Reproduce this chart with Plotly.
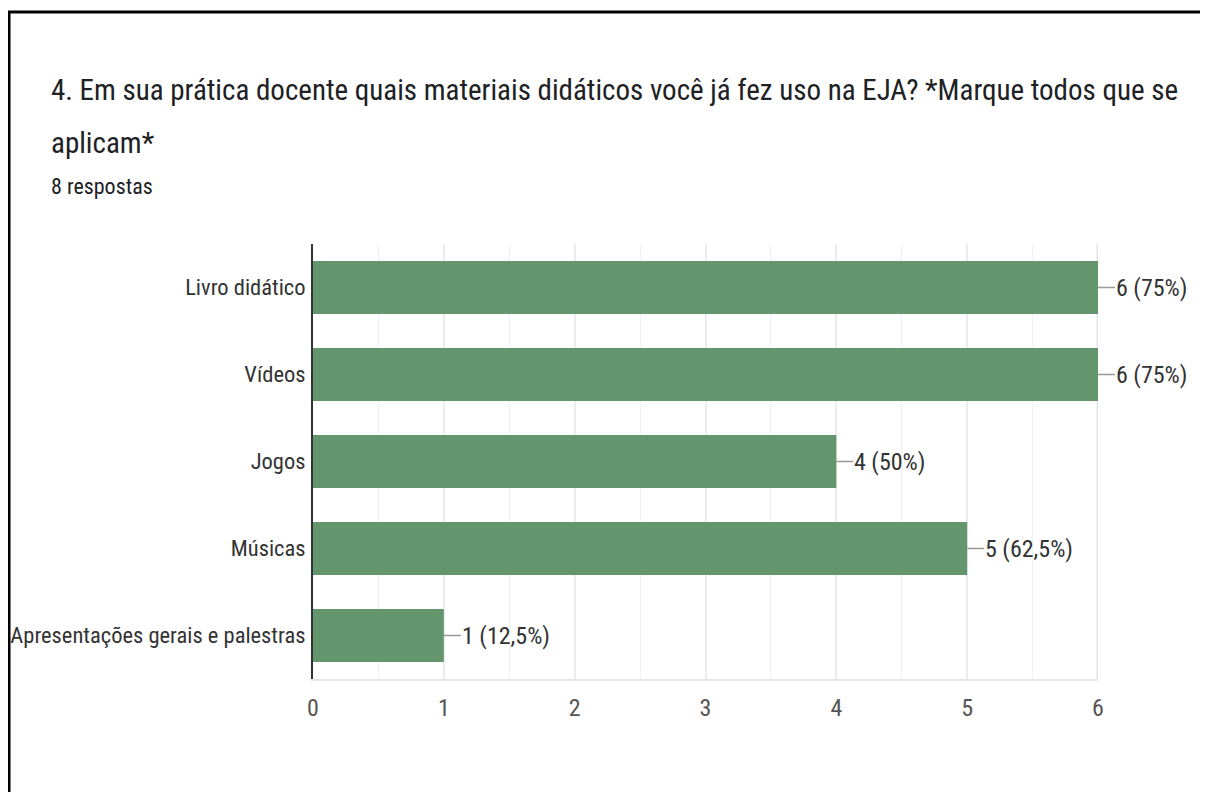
import plotly.graph_objects as go

categories = ["Livro didático", "Vídeos", "Jogos", "Músicas", "Apresentações gerais e palestras"]
counts = [6, 6, 4, 5, 1]
labels = ["6 (75%)", "6 (75%)", "4 (50%)", "5 (62,5%)", "1 (12,5%)"]
x_ticks = [0, 1, 2, 3, 4, 5, 6]

title_line1 = "4. Em sua prática docente quais materiais didáticos você já fez uso na EJA? *Marque todos que se"
title_line2 = "aplicam*"
subtitle = "8 respostas"

FONT = "Roboto Condensed, Liberation Sans Narrow, Arial Narrow, sans-serif"
BAR = "#64966e"

OFF = 8  # page body margin
W, H = 1192, 784
L, R, T, B = 313 - OFF, 1192 - (1098 - OFF), 244 - OFF, 784 - (679 - OFF)
pw, ph = W - L - R, H - T - B

def px(x):
    return (x - OFF - L) / pw

def py(y):
    return (H - B - (y - OFF)) / ph

fig = go.Figure()
fig.add_trace(go.Bar(
    x=counts, y=categories, orientation="h",
    marker=dict(color=BAR, line=dict(width=0)),
    hoverinfo="skip",
))

for c, v, t in zip(categories, counts, labels):
    fig.add_annotation(
        x=v, y=c, xref="x", yref="y", text=t,
        showarrow=True, arrowhead=0, arrowwidth=1.5, arrowcolor="#999999",
        ax=17, ay=0, xanchor="left", standoff=0, borderpad=0,
        font=dict(family=FONT, size=24, color="#333333"),
    )

fig.add_annotation(x=px(49), y=py(90), xref="paper", yref="paper", text=title_line1,
                   showarrow=False, xanchor="left", yanchor="middle",
                   font=dict(family=FONT, size=29, color="#202124"))
fig.add_annotation(x=px(49), y=py(143), xref="paper", yref="paper", text=title_line2,
                   showarrow=False, xanchor="left", yanchor="middle",
                   font=dict(family=FONT, size=29, color="#202124"))
fig.add_annotation(x=px(49), y=py(186), xref="paper", yref="paper", text=subtitle,
                   showarrow=False, xanchor="left", yanchor="middle",
                   font=dict(family=FONT, size=22, color="#202124"))

# outer frame
fig.add_shape(type="rect", xref="paper", yref="paper",
              x0=px(9), x1=px(1240), y0=py(12), y1=py(830),
              line=dict(color="black", width=3), layer="above")

fig.update_layout(
    template="none",
    width=W, height=H,
    margin=dict(l=L, r=R, t=T, b=B, pad=0, autoexpand=False),
    plot_bgcolor="white", paper_bgcolor="white",
    showlegend=False, bargap=0.39,
    xaxis=dict(range=[0, 6], tickvals=x_ticks, ticks="", showgrid=True, automargin=False,
               gridcolor="#ececec", gridwidth=1.5,
               minor=dict(dtick=0.5, showgrid=True, gridcolor="#f2f2f2", gridwidth=1),
               zeroline=False, showline=True, linecolor="#e6e6e6", linewidth=2, mirror=False,
               tickfont=dict(family=FONT, size=24, color="#555555"), ticklabelstandoff=6),
    yaxis=dict(categoryorder="array", categoryarray=categories[::-1], autorange=False,
               range=[-0.5, 4.5], showgrid=False, zeroline=False, ticks="", automargin=False,
               showline=True, linecolor="#333333", linewidth=2,
               tickfont=dict(family=FONT, size=22.5, color="#333333"), ticklabelstandoff=1),
)
fig.add_shape(type="line", xref="x", yref="paper", x0=6, x1=6, y0=0, y1=1,
              line=dict(color="#e6e6e6", width=3), layer="below")

fig.write_html("out.html")
